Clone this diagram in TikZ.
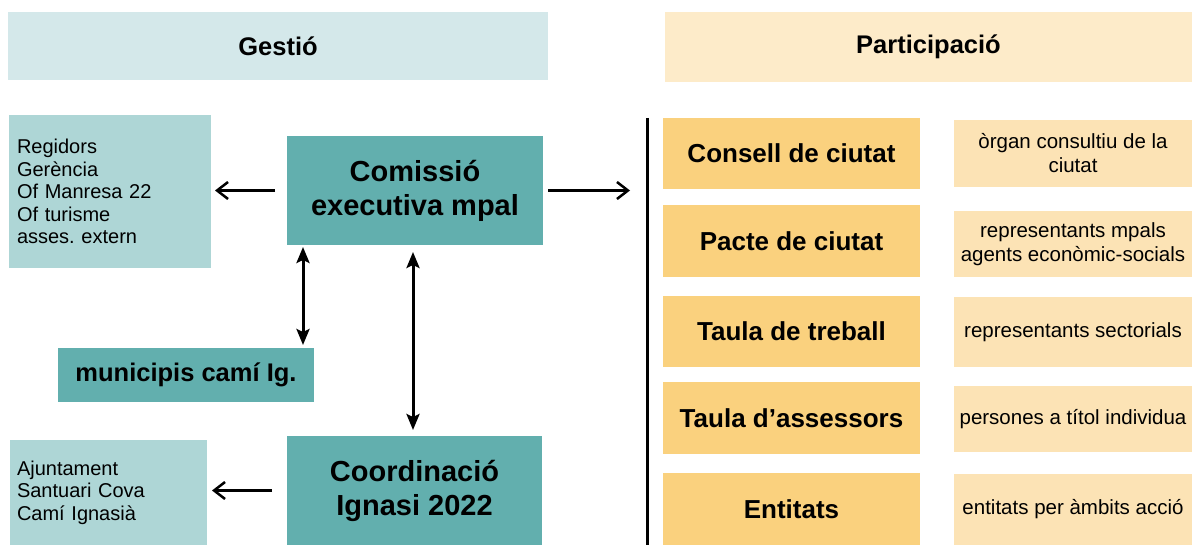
\documentclass[tikz,border=0pt]{standalone}
\usepackage{fontspec}
\setmainfont{Liberation Sans}
\usetikzlibrary{arrows.meta,positioning}
\definecolor{capgestio}{HTML}{D4E8EA}
\definecolor{cappartic}{HTML}{FDEBC9}
\definecolor{tealfort}{HTML}{62AFAE}
\definecolor{tealclar}{HTML}{AED6D6}
\definecolor{or}{HTML}{FAD17E}
\definecolor{preseg}{HTML}{FCE3B5}
\tikzset{every node/.style={inner sep=0pt, outer sep=0pt},
         capcal/.style={font=\fontsize{25.5}{30}\selectfont\bfseries},
         granbox/.style={fill=tealfort, align=center, font=\fontsize{29}{34}\selectfont\bfseries},
         midbox/.style={fill=tealfort, font=\fontsize{25.5}{30}\selectfont\bfseries},
         llistabox/.style={fill=tealclar, align=left, font=\fontsize{20}{22.5}\selectfont},
         orgbox/.style={fill=or, minimum width=257, font=\fontsize{26}{30}\selectfont\bfseries},
         descbox/.style={fill=preseg, minimum width=238, align=center, font=\fontsize{20.5}{24}\selectfont},
         fletxa/.style={line width=2.5pt, -{Straight Barb[length=11pt,width=17pt]}},
         doble/.style={line width=3pt, {Stealth[length=16pt,width=13pt,inset=3pt]}-{Stealth[length=16pt,width=13pt,inset=3pt]}}}

\begin{document}
\begin{tikzpicture}[x=1pt,y=-1pt]
	\useasboundingbox (0,0) rectangle (1192,545);

	% capcaleres
	\node[capcal, fill=capgestio, minimum width=540, minimum height=68] (gestio) at (278,46) {Gestió};
	\node[capcal, fill=cappartic, minimum width=527, minimum height=70] (partic) at (928.5,47) {Participació};

	% gestio
	\node[granbox, minimum width=256, minimum height=109] (comissio) at (415,190.5) {Comissió\\executiva mpal};
	\node[llistabox, text width=186, minimum width=202, minimum height=153] (grup) at (110,191.5)
		{Regidors\\Gerència\\Of Manresa 22\\Of turisme\\asses.\ extern};
	\node[midbox, minimum width=256, minimum height=54] (municipis) at (186,375) {municipis camí Ig.};
	\node[granbox, minimum width=255, minimum height=109] (coordinacio) at (414.5,490.5) {Coordinació\\Ignasi 2022};
	\node[llistabox, text width=183, minimum width=197, minimum height=105] (llocs) at (108.5,492.5)
		{Ajuntament\\Santuari Cova\\Camí Ignasià};

	\coordinate (cap) at (630,190.5);
	\coordinate (sepdalt) at (647,118);
	\coordinate (sepbaix) at (647,545);

	\draw[fletxa, shorten <=12pt, shorten >=4pt] (comissio.west) -- (grup.east |- comissio.west);
	\draw[fletxa, shorten <=5pt] (comissio.east) -- (cap);
	\draw[doble, shorten <=2pt, shorten >=3pt] ([xshift=16pt]comissio.south west) -- ([xshift=16pt]comissio.south west |- municipis.north);
	\draw[doble, shorten <=7pt, shorten >=6pt] ([xshift=-2pt]comissio.south) -- ([xshift=-2pt]comissio.south |- coordinacio.north);
	\draw[fletxa, shorten <=15pt, shorten >=5pt] (coordinacio.west) -- (llocs.east |- coordinacio.west);
	\draw[line width=3pt] (sepdalt) -- (sepbaix);

	% participacio
	\foreach \y/\h/\org/\yd/\hd/\desc [count=\i] in {
		153.5/71/{Consell de ciutat}/153.5/67/{òrgan consultiu de la\\ciutat},
		241/72/{Pacte de ciutat}/244/66/{representants mpals\\agents econòmic-socials},
		331.5/71/{Taula de treball}/332/70/{representants sectorials},
		418/72/{Taula d’assessors}/419/66/{persones a títol individua},
		509/72/{Entitats}/509.5/71/{entitats per àmbits acció}}
	{
		\node[orgbox, minimum height=\h] (org-\i) at (791.5,\y) {\org};
		\node[descbox, minimum height=\hd] (desc-\i) at (1073,\yd) {\desc};
	}
\end{tikzpicture}
\end{document}
